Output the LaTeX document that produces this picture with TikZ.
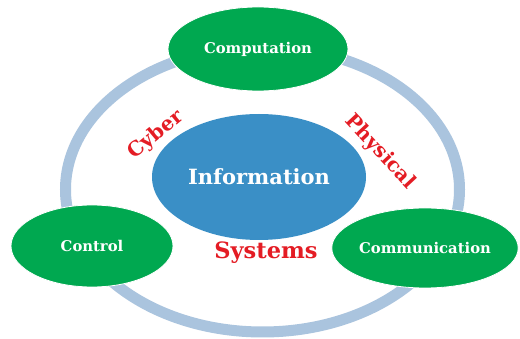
\documentclass[tikz,border=0pt]{standalone}
\usepackage{fontspec}
\setmainfont{DejaVu Serif}
\usetikzlibrary{shapes.geometric}
\definecolor{ringblue}{RGB}{170,196,222}
\definecolor{nodegreen}{RGB}{0,168,80}
\definecolor{infoblue}{RGB}{58,143,198}
\definecolor{labelred}{RGB}{228,28,36}
\tikzset{
  greenell/.style={ellipse, fill=nodegreen, draw=white, line width=0.8pt, text=white, font=\bfseries\fontsize{14.8}{16}\selectfont, inner sep=0pt},
  redlabel/.style={text=labelred, font=\bfseries\fontsize{20}{22}\selectfont, inner sep=0pt},
}
\begin{document}
\begin{tikzpicture}[x=1pt,y=-1pt]
\useasboundingbox (0,0) rectangle (520,339);
\fill[white] (0,0) rectangle (520,339);
% ring
\draw[ringblue, line width=11pt] (262.5,189.5) ellipse [x radius=197, y radius=142.5];
% center
\node[ellipse, fill=infoblue, minimum width=214pt, minimum height=126pt, inner sep=0pt, text=white, font=\bfseries\fontsize{21}{23}\selectfont] (info) at (259,177) {Information};
% outer nodes
\node[greenell, minimum width=180pt, minimum height=84pt] (comp) at (258,49) {Computation};
\node[greenell, minimum width=162pt, minimum height=82pt] (ctrl) at (92,246) {Control};
\node[greenell, minimum width=186pt, minimum height=80pt] (comm) at (425,248) {Communication};
% labels
\node[redlabel, rotate=40] (cyber) at (156,135) {Cyber};
\node[redlabel, rotate=-47] (phys) at (380,152) {Physical};
\node[redlabel, font=\bfseries\fontsize{22.5}{24}\selectfont] (sys) at (266,253) {Systems};
\end{tikzpicture}
\end{document}
